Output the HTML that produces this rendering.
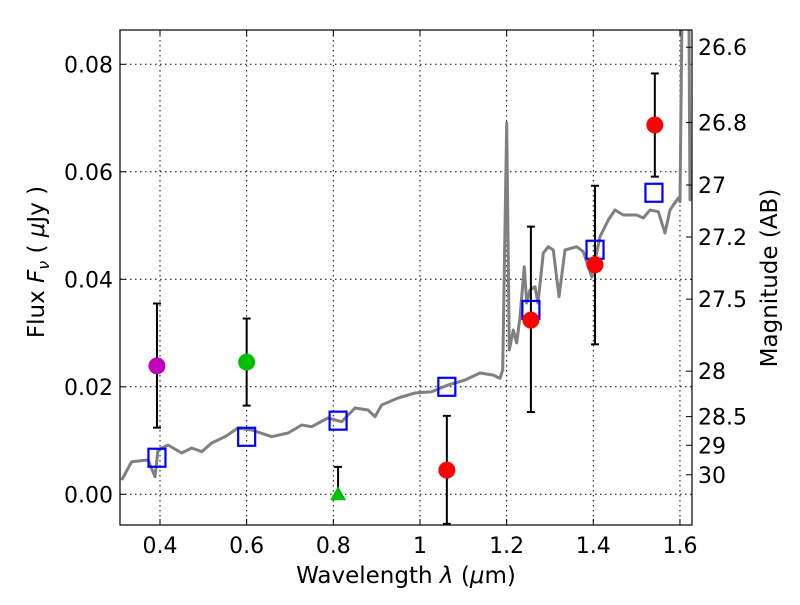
<!DOCTYPE html>
<html><head><meta charset="utf-8"><style>
body{margin:0;background:#fff;}
svg text{font-family:"DejaVu Sans","Liberation Sans",sans-serif;fill:#000;}
</style></head><body>
<svg id="chart" width="800" height="600" xmlns="http://www.w3.org/2000/svg">
<rect width="800" height="600" fill="#fff"/>
<g id="grid"></g>
<g id="spec"></g>
<g id="marks"></g>
<rect x="120" y="30" width="572" height="495" fill="none" stroke="#000" stroke-width="1.2"/>
<g id="axes"></g>
<text x="406" y="583" text-anchor="middle" font-size="23">Wavelength  <tspan font-style="italic">λ</tspan> (<tspan font-style="italic">μ</tspan>m)</text>
<text transform="translate(44,262) rotate(-90)" text-anchor="middle" font-size="23">Flux  <tspan font-style="italic">F</tspan><tspan font-style="italic" font-size="16" dy="5">ν</tspan><tspan dy="-5">  ( </tspan><tspan font-style="italic">μ</tspan>Jy )</text>
<text transform="translate(777,278) rotate(-90)" text-anchor="middle" font-size="23">Magnitude (AB)</text>
</svg>
<script>
const specLam=[0.3116,0.3347,0.3723,0.3885,0.3954,0.4185,0.4501,0.4732,0.4962,0.5193,0.55,0.58,0.6116,0.6578,0.6954,0.727,0.7501,0.7877,0.8193,0.85,0.88,0.8962,0.9116,0.9493,0.9885,1.027,1.0647,1.1039,1.1385,1.1685,1.1847,1.1909,1.2001,1.2061,1.2154,1.2232,1.2308,1.2408,1.2463,1.2539,1.2654,1.2724,1.2846,1.2962,1.3077,1.3209,1.3347,1.3617,1.3769,1.3963,1.4155,1.4346,1.4501,1.4692,1.5001,1.5154,1.5309,1.55,1.5655,1.577,1.5962,1.6001,1.606,1.62,1.6232,1.64];
const specFlux=[0.00266,0.00607,0.00638,0.00327,0.00824,0.00917,0.00768,0.00861,0.00793,0.00954,0.01072,0.01233,0.01196,0.01072,0.0114,0.01289,0.01258,0.0142,0.01351,0.01606,0.01568,0.01444,0.01661,0.01792,0.01885,0.01909,0.02034,0.02127,0.02257,0.0222,0.02158,0.02313,0.06908,0.02685,0.03057,0.02815,0.03304,0.04234,0.03559,0.03801,0.03862,0.03559,0.04489,0.04607,0.04545,0.03676,0.04545,0.04607,0.04514,0.04048,0.04793,0.05103,0.05289,0.05196,0.05196,0.0514,0.05289,0.05258,0.04861,0.05289,0.05512,0.05444,0.1,0.1,0.0548,0.055];
const obsLam=[0.393,0.6,0.811,1.062,1.256,1.404,1.542];
const obsFlux=[0.0239,0.0246,0.0,0.0045,0.0324,0.0427,0.0687];
const obsErrHi=[0.0355,0.0327,0.0051,0.0146,0.0498,0.0574,0.0783];
const obsErrLo=[0.0124,0.0165,0.0,-0.0055,0.0153,0.0279,0.0591];
const obsColor=['#bf00bf','#00bf00','#00bf00','#ff0000','#ff0000','#ff0000','#ff0000'];
const obsShape=['circle','circle','triangle','circle','circle','circle','circle'];
const modelLam=[0.393,0.6,0.811,1.062,1.256,1.404,1.54];
const modelFlux=[0.0068,0.0107,0.0137,0.0200,0.0343,0.0455,0.0561];
const xTicks=[0.4,0.6,0.8,1.0,1.2,1.4,1.6];
const xTickLabels=['0.4','0.6','0.8','1','1.2','1.4','1.6'];
const yTicks=[0,0.02,0.04,0.06,0.08];
const yTickLabels=['0.00','0.02','0.04','0.06','0.08'];
const magTicks=[26.6,26.8,27,27.2,27.5,28,28.5,29,30];
const magTickLabels=['26.6','26.8','27','27.2','27.5','28','28.5','29','30'];

const NS='http://www.w3.org/2000/svg';
const L=120,R=692,T=30,B=525;
const xS=l=>160+(l-0.4)*433.3;
const yS=f=>494.3-f*5375;
function mk(tag,attrs,parent){const e=document.createElementNS(NS,tag);for(const k in attrs)e.setAttribute(k,attrs[k]);parent.appendChild(e);return e;}
const grid=document.getElementById('grid'),spec=document.getElementById('spec'),marks=document.getElementById('marks'),axes=document.getElementById('axes');
const defs=mk('defs',{},document.getElementById('chart'));
const cp=mk('clipPath',{id:'clip'},defs);mk('rect',{x:L,y:T,width:R-L,height:B-T},cp);
spec.setAttribute('clip-path','url(#clip)');
marks.setAttribute('clip-path','url(#clip)');
xTicks.forEach((t,i)=>{
  const x=xS(t);
  const g=mk('line',{x1:x,x2:x,y1:T,y2:B,stroke:'#000','stroke-width':1,'stroke-dasharray':'1.5,3.5'},grid);
  
  
  mk('line',{x1:x,x2:x,y1:B,y2:B-6,stroke:'#000'},axes);
  mk('line',{x1:x,x2:x,y1:T,y2:T+6,stroke:'#000'},axes);
  const tx=mk('text',{x:x,y:553,'text-anchor':'middle','font-size':22},axes);
  tx.textContent=xTickLabels[i];
  
  
});
yTicks.forEach((t,i)=>{
  const y=yS(t);
  const g=mk('line',{x1:L,x2:R,y1:y,y2:y,stroke:'#000','stroke-width':1,'stroke-dasharray':'1.5,3.5'},grid);
  
  
  mk('line',{x1:L,x2:L+6,y1:y,y2:y,stroke:'#000'},axes);
  const tx=mk('text',{x:113,y:y+8,'text-anchor':'end','font-size':22},axes);
  tx.textContent=yTickLabels[i];
  
  
});
magTicks.forEach((m,i)=>{
  const f=Math.pow(10,(23.9-m)/2.5);
  const y=yS(f);
  mk('line',{x1:R,x2:R-6,y1:y,y2:y,stroke:'#000'},axes);
  const tx=mk('text',{x:698,y:y+8,'font-size':22},axes);
  tx.textContent=magTickLabels[i];
  
  
});
const pts=specLam.map((l,i)=>xS(l).toFixed(1)+','+yS(specFlux[i]).toFixed(1)).join(' ');
const pl=mk('polyline',{points:pts,fill:'none',stroke:'#808080','stroke-width':3,'stroke-linejoin':'round'},spec);


obsLam.forEach((l,i)=>{
  const x=xS(l);
  const eb=mk('line',{x1:x,x2:x,y1:yS(obsErrHi[i]),y2:yS(obsErrLo[i]),stroke:'#000','stroke-width':2},marks);
  
  
  [obsErrHi[i],obsErrLo[i]].forEach(v=>mk('line',{x1:x-4,x2:x+4,y1:yS(v),y2:yS(v),stroke:'#000','stroke-width':2},marks));
});
modelLam.forEach((l,i)=>{
  const x=xS(l),y=yS(modelFlux[i]);
  const r=mk('rect',{x:x-8.5,y:y-9,width:17,height:18,fill:'none',stroke:'#0000ff','stroke-width':2.2},marks);
  
  
});
obsLam.forEach((l,i)=>{
  const x=xS(l),y=yS(obsFlux[i]);
  let e;
  if(obsShape[i]==='triangle'){
    e=mk('polygon',{points:`${x},${y-8} ${x-8},${y+6} ${x+8},${y+6}`,fill:obsColor[i]},marks);
  } else {
    e=mk('circle',{cx:x,cy:y,r:8.5,fill:obsColor[i]},marks);
  }
  
  
});
</script>
</body></html>
